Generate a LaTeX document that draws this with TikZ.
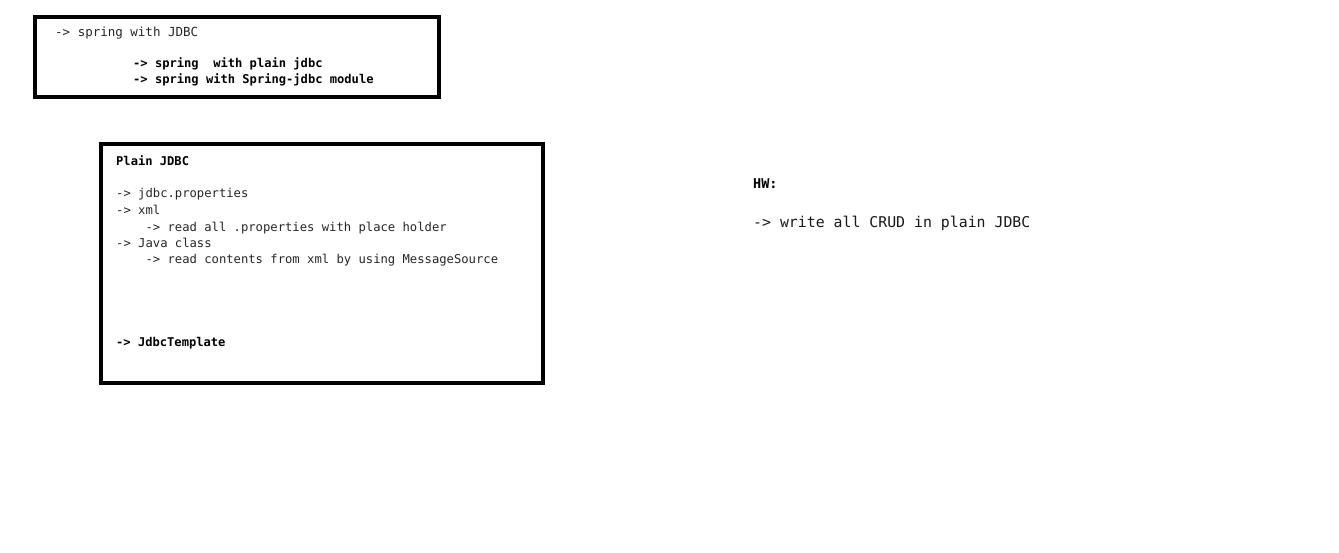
\documentclass[tikz,border=0pt]{standalone}
\usepackage{fontspec}
\setmonofont{DejaVu Sans Mono}
\begin{document}
\begin{tikzpicture}[x=1pt,y=-1pt,
  frame/.style={draw=black,line width=4pt,fill=none},
  txt/.style={anchor=base west,inner sep=0pt,font=\ttfamily\fontsize{12.2}{14}\selectfont,text=black!85},
  btxt/.style={txt,font=\ttfamily\bfseries\fontsize{12.1}{14}\selectfont,text=black},
  hw/.style={anchor=base west,inner sep=0pt,font=\ttfamily\fontsize{14.85}{17}\selectfont,text=black!90},
  hwb/.style={hw,font=\ttfamily\bfseries\fontsize{13.5}{17}\selectfont,text=black}]
\useasboundingbox (0,0) rectangle (1339,552);
\fill[white] (0,0) rectangle (1339,552);
% box 1
\draw[frame] (35,17) rectangle (439,97);
\node[txt,font=\ttfamily\fontsize{12.5}{14}\selectfont] (a1) at (55,36) {->~spring~with~JDBC};
\node[btxt] (a2) at (133,67) {->~spring~~with~plain~jdbc};
\node[btxt] (a3) at (133,83) {->~spring~with~Spring-jdbc~module};
% box 2
\draw[frame] (101,144) rectangle (543,383);
\node[btxt] (b0) at (116,165) {Plain~JDBC};
\node[txt] (b1) at (116,197) {->~jdbc.properties};
\node[txt] (b2) at (116,214) {->~xml};
\node[txt] (b3) at (116,231) {~~~~->~read~all~.properties~with~place~holder};
\node[txt] (b4) at (116,247) {->~Java~class};
\node[txt] (b5) at (116,263) {~~~~->~read~contents~from~xml~by~using~MessageSource};
\node[btxt] (b6) at (116,346) {->~JdbcTemplate};
% HW
\node[hwb] (h0) at (753,188) {HW:};
\node[hw] (h1) at (753,227) {->~write~all~CRUD~in~plain~JDBC};
\end{tikzpicture}
\end{document}
